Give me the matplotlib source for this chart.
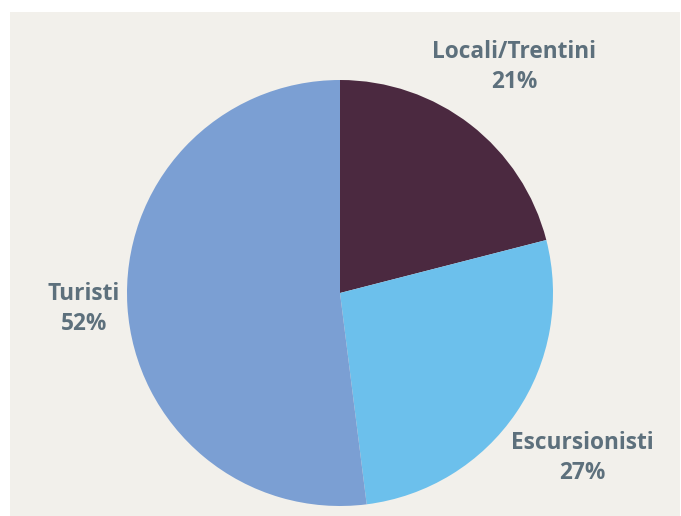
import matplotlib.pyplot as plt
from matplotlib.patches import Rectangle

labels = ["Locali/Trentini", "Escursionisti", "Turisti"]
values = [21, 27, 52]
colors = ["#4b2940", "#6cc0ec", "#7b9fd3"]

# label positions in pixels (x, y from top)
label_pos = [(514, 67), (582, 458), (84, 309)]

W, H = 681, 516
fig = plt.figure(figsize=(W / 100, H / 100), dpi=100)
fig.patch.set_facecolor("white")

# beige panel
fig.patches.append(Rectangle((10 / W, 0), (W - 11) / W, (H - 12) / H,
                             transform=fig.transFigure, facecolor="#f2f0eb",
                             edgecolor="none", zorder=-5))

cx, cy, r = 340, 293, 213
ax = fig.add_axes([(cx - r) / W, (H - cy - r) / H, 2 * r / W, 2 * r / H])
ax.set_zorder(2)
ax.pie(values, colors=colors, startangle=90, counterclock=False, radius=1,
       wedgeprops=dict(linewidth=0))
ax.set_xlim(-1, 1)
ax.set_ylim(-1, 1)
ax.axis("off")

for lab, v, (x, y) in zip(labels, values, label_pos):
    fig.text(x / W, 1 - y / H, f"{lab}\n{v}%", ha="center", va="center",
             fontsize=16.3, fontweight="bold", family=["Open Sans", "DejaVu Sans"],
             color="#5d707c", linespacing=1.32, zorder=3)

fig.savefig("out.png", dpi=100)
